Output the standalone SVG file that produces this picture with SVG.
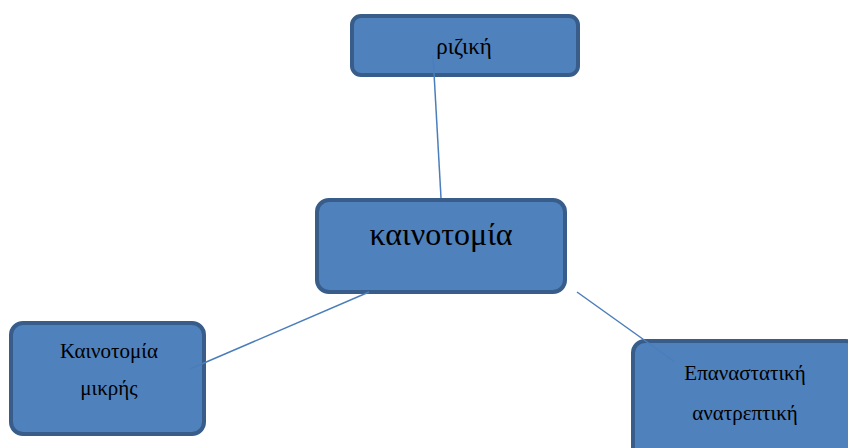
<svg xmlns="http://www.w3.org/2000/svg" width="848" height="448" viewBox="0 0 848 448">
<style>
.box{fill:#4f81bd;stroke:#385d8a;stroke-width:4}
.t{font-family:"Liberation Serif","Times New Roman",serif;fill:#000;text-anchor:middle}
.s{font-size:21px}
.r{font-size:23px}
.l{font-size:32px}
.c{stroke:#4a7ebb;stroke-width:1.5;fill:none}
</style>
<rect width="848" height="448" fill="#fff"/>
<g id="riziki">
<rect class="box" x="352" y="16" width="226" height="59" rx="9"/>
<text class="t r" x="464" y="54">ριζική</text>
</g>
<g id="kainotomia">
<rect class="box" x="317" y="200" width="248" height="92" rx="12"/>
<text class="t l" x="441" y="245">καινοτομία</text>
</g>
<g id="mikris">
<rect class="box" x="11" y="323" width="193" height="111" rx="12"/>
<text class="t s" x="109" y="358">Καινοτομία</text>
<text class="t s" x="109" y="395">μικρής</text>
</g>
<g id="epanastatiki">
<rect class="box" x="633" y="341" width="225" height="120" rx="12"/>
<text class="t s" x="745" y="380">Επαναστατική</text>
<text class="t s" x="745" y="420">ανατρεπτική</text>
</g>
<g id="connectors">
<line class="c" x1="433" y1="55" x2="441" y2="198"/>
<line class="c" x1="369" y1="292" x2="190" y2="369"/>
<line class="c" x1="577" y1="292" x2="675" y2="362"/>
</g>
</svg>
